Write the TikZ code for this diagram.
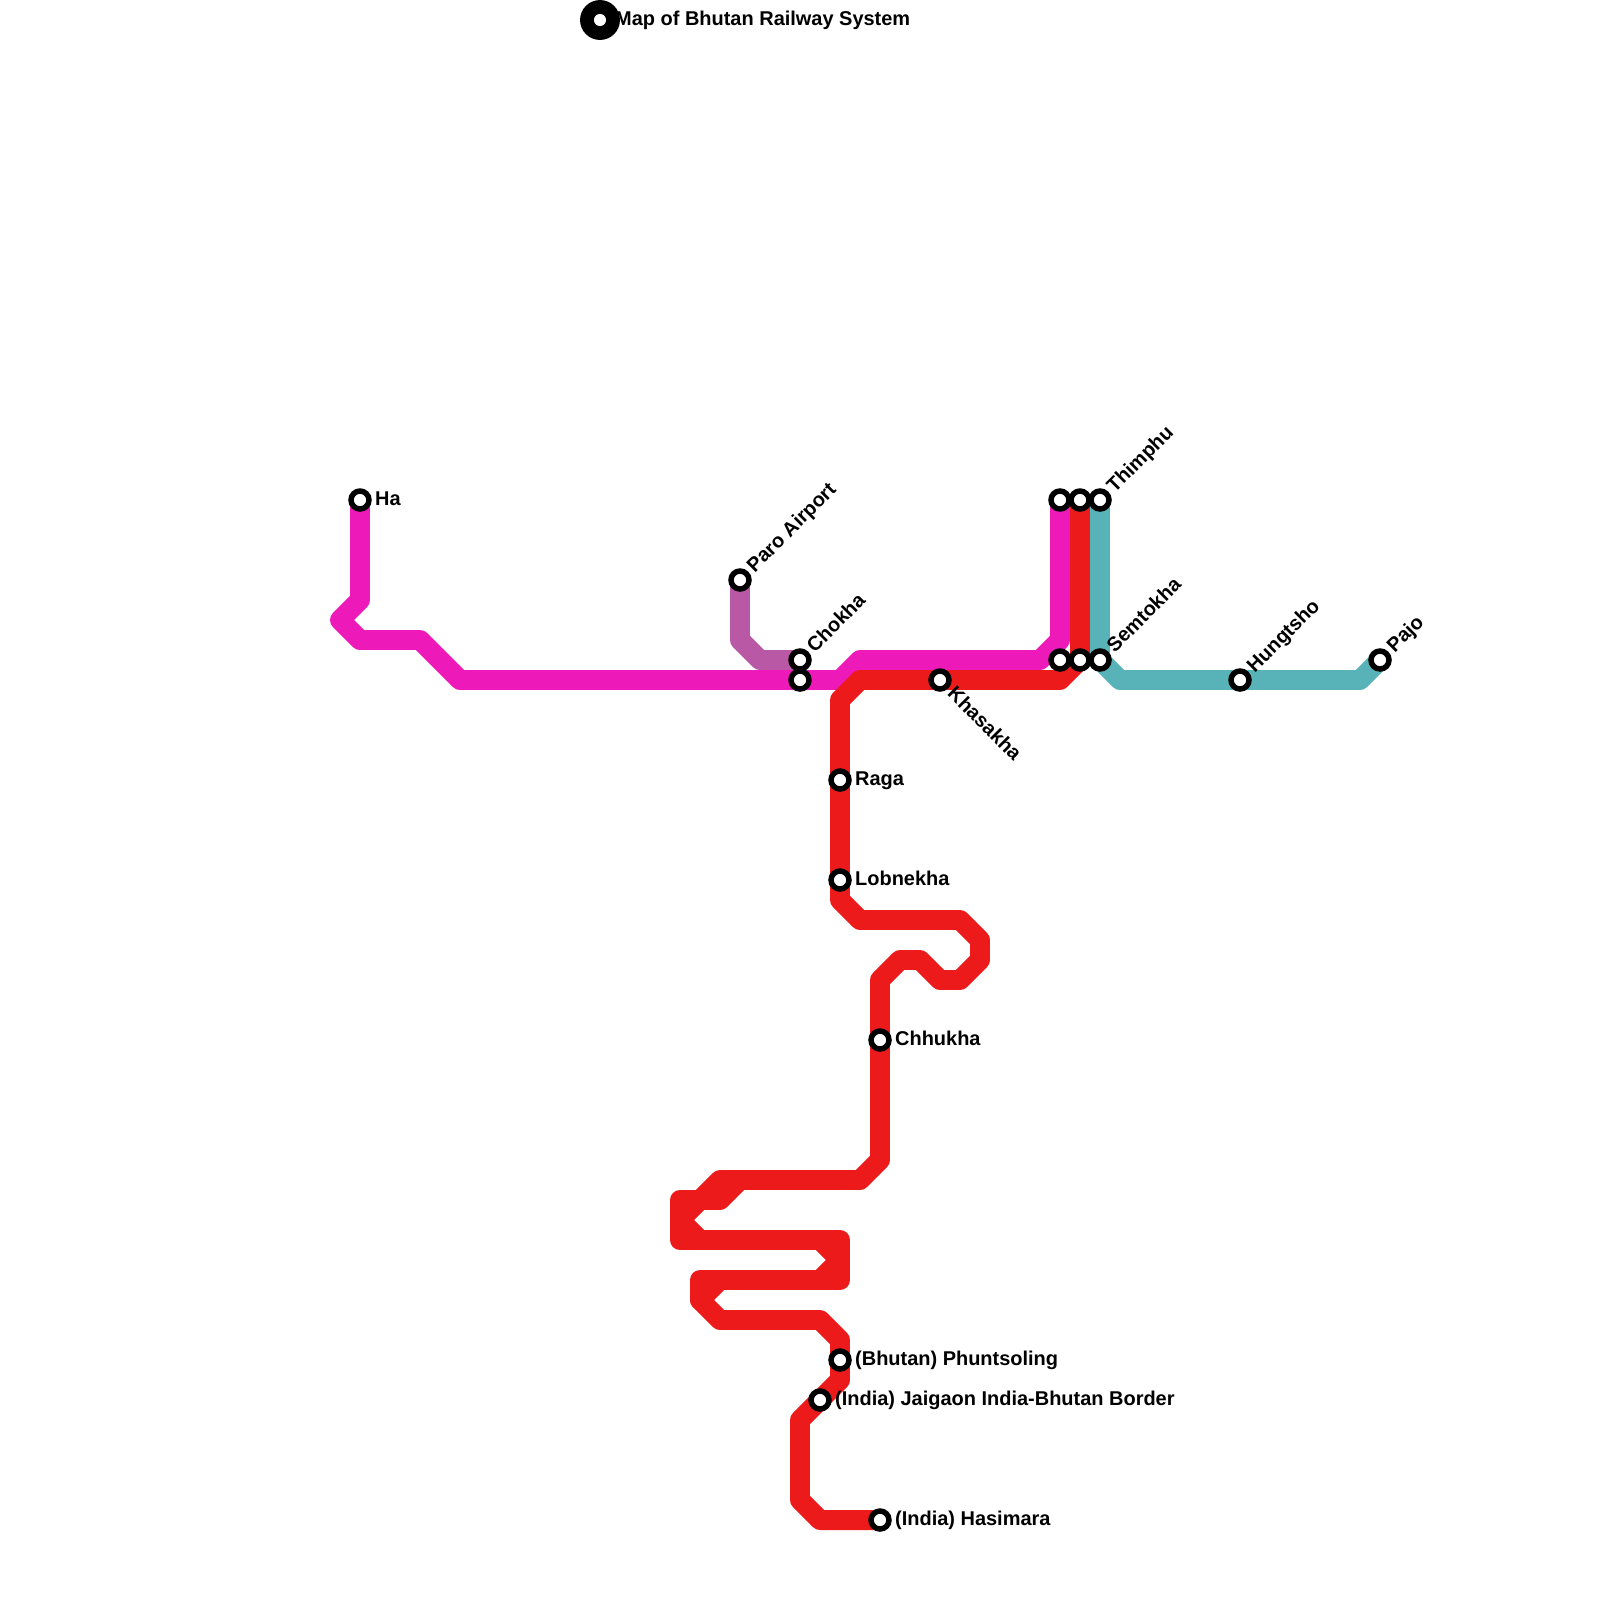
\documentclass[tikz,border=0pt]{standalone}
\usepackage{fontspec}
\setmainfont{Liberation Sans}
\usepackage{xcolor}
\usetikzlibrary{positioning,calc}

\definecolor{magentaline}{HTML}{EE19B9}
\definecolor{redline}{HTML}{EC1A1A}
\definecolor{tealline}{HTML}{58B3B9}
\definecolor{purpleline}{HTML}{B958A5}

\tikzset{
  railline/.style={line width=14.2pt, line join=round, line cap=round},
  station/.style={circle, draw=black, fill=white, line width=3.9pt, minimum size=12.8pt, inner sep=0pt},
  hubstation/.style={circle, fill=black, minimum size=28.4pt, inner sep=0pt},
  hubdot/.style={circle, fill=white, minimum size=8.6pt, inner sep=0pt},
  stname/.style={font=\fontsize{14.2}{16}\bfseries\selectfont, inner sep=0pt, anchor=base west,
    xshift=10.6pt, yshift=-4.1pt},
}

\begin{document}
\begin{tikzpicture}[x=0.5cm, y=-0.5cm]
  \useasboundingbox (0,0) rectangle (80,80);

  % Stations
  \foreach \name/\x/\y in {ha/18/25, paro/37/29, chokhaA/40/33, chokhaB/40/34, khasakha/47/34,
    thimphuM/53/25, thimphuR/54/25, thimphuT/55/25, semtokhaM/53/33, semtokhaR/54/33, semtokhaT/55/33,
    hungtsho/62/34, pajo/69/33, raga/42/39, lobnekha/42/44, chhukha/44/52,
    phuntsoling/42/68, jaigaon/41/70, hasimara/44/76} {
    \coordinate (\name) at (\x,\y);
  }

  % Lines
  \draw[railline, purpleline] (paro) -- (37,32) -- (38,33) -- (chokhaA);
  \draw[railline, magentaline] (ha) -- (18,30) -- (17,31) -- (18,32) -- (21,32) -- (23,34)
    -- (42,34) -- (43,33) -- (52,33) -- (53,32) -- (thimphuM);
  \draw[railline, redline] (thimphuR) -- (semtokhaR) -- (53,34) -- (43,34) -- (42,35)
    -- (raga) -- (42,45) -- (43,46) -- (48,46) -- (49,47) -- (49,48) -- (48,49) -- (47,49)
    -- (46,48) -- (45,48) -- (44,49) -- (chhukha) -- (44,58) -- (43,59) -- (36,59) -- (35,60)
    -- (34,61) -- (35,62) -- (41,62) -- (42,63) -- (41,64) -- (36,64) -- (35,65) -- (36,66)
    -- (41,66) -- (42,67) -- (42,69) -- (40,71) -- (40,75) -- (41,76) -- (hasimara);
  % Doubled bits of the red line
  \draw[railline, redline] (37,59) -- (36,60) -- (34,60) -- (34,62) -- (35,62);
  \draw[railline, redline] (41,62) -- (42,62) -- (42,64) -- (41,64);
  \draw[railline, redline] (36,64) -- (35,64) -- (35,65);
  \draw[railline, tealline] (thimphuT) -- (semtokhaT) -- (56,34) -- (68,34) -- (pajo);

  % Station circles
  \foreach \name in {ha, paro, chokhaA, chokhaB, khasakha, thimphuM, thimphuR, thimphuT, semtokhaM,
    semtokhaR, semtokhaT, hungtsho, pajo, raga, lobnekha, chhukha, phuntsoling, jaigaon, hasimara} {
    \node[station] (c\name) at (\name) {};
  }
  \node[hubstation] (title) at (30,1) {};
  \node[hubdot] (titledot) at (title) {};

  % Labels to the right
  \node[stname] (ltitle) at (title) {Map of Bhutan Railway System};
  \node[stname] (lha) at (ha) {Ha};
  \node[stname] (lraga) at (raga) {Raga};
  \node[stname] (llobnekha) at (lobnekha) {Lobnekha};
  \node[stname] (lchhukha) at (chhukha) {Chhukha};
  \node[stname] (lphuntsoling) at (phuntsoling) {(Bhutan) Phuntsoling};
  \node[stname] (ljaigaon) at (jaigaon) {(India) Jaigaon India-Bhutan Border};
  \node[stname] (lhasimara) at (hasimara) {(India) Hasimara};

  % Slanted labels
  \node[rotate=45, stname] (lparo) at (paro) {Paro Airport};
  \node[rotate=45, stname] (lchokha) at (chokhaA) {Chokha};
  \node[rotate=45, stname] (lthimphu) at (thimphuT) {Thimphu};
  \node[rotate=45, stname] (lsemtokha) at (semtokhaT) {Semtokha};
  \node[rotate=45, stname] (lhungtsho) at (hungtsho) {Hungtsho};
  \node[rotate=45, stname] (lpajo) at (pajo) {Pajo};
  \node[rotate=-45, stname] (lkhasakha) at (khasakha) {Khasakha};
\end{tikzpicture}
\end{document}
